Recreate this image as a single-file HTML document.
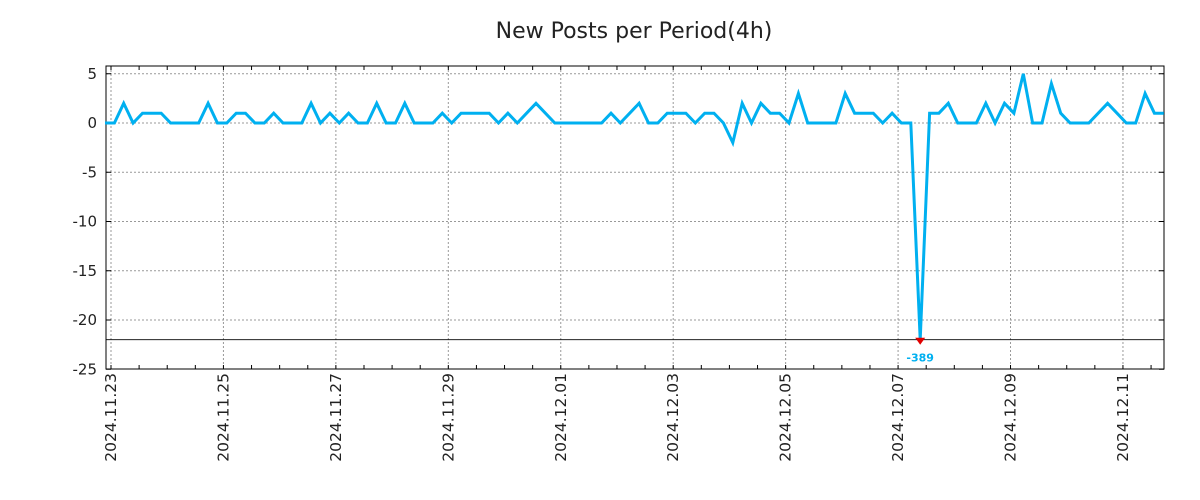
<!DOCTYPE html>
<html><head><meta charset="utf-8"><style>
body{margin:0;background:#fff;}
svg{display:block;font-family:"DejaVu Sans","Liberation Sans",sans-serif;}
</style></head><body>
<svg id="chart" width="1200" height="500" viewBox="0 0 1200 500" xmlns="http://www.w3.org/2000/svg">
<rect width="1200" height="500" fill="#fff"/>
<text x="634" y="38" font-size="22" text-anchor="middle" fill="#222">New Posts per Period(4h)</text>
<g id="grid"></g>
<g id="axes"></g>
<g id="series"></g>
</svg>
<script>
const values = [0,0,2,0,1,1,1,0,0,0,0,2,0,0,1,1,0,0,1,0,0,0,2,0,1,0,1,0,0,2,0,0,2,0,0,0,1,0,1,1,1,1,0,1,0,1,2,1,0,0,0,0,0,0,1,0,1,2,0,0,1,1,1,0,1,1,0,-2,2,0,2,1,1,0,3,0,0,0,0,3,1,1,1,0,1,0,0,-389,1,1,2,0,0,0,2,0,2,1,5,0,0,4,1,0,0,0,1,2,1,0,0,3,1,1];
const yTicks = [5,0,-5,-10,-15,-20,-25];
const dateLabels = ["2024.11.23","2024.11.25","2024.11.27","2024.11.29","2024.12.01","2024.12.03","2024.12.05","2024.12.07","2024.12.09","2024.12.11"];
const dateDayOffsets = [0,2,4,6,8,10,12,14,16,18];
const clipValue = -22;

const L=106,R=1164,T=66,B=369;
const NS="http://www.w3.org/2000/svg";
const xI = i => 105 + i*9.37;
const xDay = d => xI(d*6 + 0.64);
const yV = v => 123 - v*9.85;
function mk(tag, attrs, parent){const e=document.createElementNS(NS,tag);for(const k in attrs)e.setAttribute(k,attrs[k]);parent.appendChild(e);return e;}
const grid=document.getElementById('grid'), axes=document.getElementById('axes'), series=document.getElementById('series');

yTicks.forEach(v=>{
  const y=yV(v);
  if(v>-25){const g=mk('line',{x1:L,x2:R,y1:y,y2:y,stroke:'#999','stroke-dasharray':'2,2'},grid);
  
  }
  mk('line',{x1:L,x2:L+5,y1:y,y2:y,stroke:'#000'},axes);
  mk('line',{x1:R-5,x2:R,y1:y,y2:y,stroke:'#000'},axes);
  const t=mk('text',{x:97,y:y+5,'font-size':15,'text-anchor':'end',fill:'#222'},axes);
  t.textContent=v;
  
  
});
dateLabels.forEach((lab,k)=>{
  const x=xDay(dateDayOffsets[k]);
  const g=mk('line',{x1:x,x2:x,y1:T,y2:B,stroke:'#999','stroke-dasharray':'2,2'},grid);
  
  
  const t=mk('text',{x:0,y:0,'font-size':15.5,'text-anchor':'end',fill:'#222',transform:`translate(${x+5},${B+4}) rotate(-90)`},axes);
  t.textContent=lab;
  
  
});
for(let h=-1;h<40;h++){
  const x=xDay(h/2); if(x<L||x>R) continue;
  mk('line',{x1:x,x2:x,y1:T,y2:T+4,stroke:'#000'},axes);
  mk('line',{x1:x,x2:x,y1:B,y2:B-4,stroke:'#000'},axes);
}
const fr=mk('rect',{x:L,y:T,width:R-L,height:B-T,fill:'none',stroke:'#000','stroke-width':1},axes);


const cl=mk('line',{x1:L,x2:R,y1:yV(clipValue),y2:yV(clipValue),stroke:'#000','stroke-width':0.8},axes);



const pts=values.map((v,i)=>`${xI(i).toFixed(1)},${yV(Math.max(v,clipValue)).toFixed(1)}`).join(' ');
const pl=mk('polyline',{points:pts,fill:'none',stroke:'#00b0f0','stroke-width':3,'stroke-linejoin':'miter'},series);


values.forEach((v,i)=>{
  if(v<clipValue){
    const x=xI(i), y=yV(clipValue);
    const m=mk('path',{d:`M${x-5},${y-2} L${x+5},${y-2} L${x},${y+5} Z`,fill:'#e00000'},series);
    
    
    const t=mk('text',{x:x,y:y+22,'font-size':11,'font-weight':'bold','text-anchor':'middle',fill:'#00b0f0'},series);
    t.textContent=v;
    
    
  }
});
</script>
</body></html>
